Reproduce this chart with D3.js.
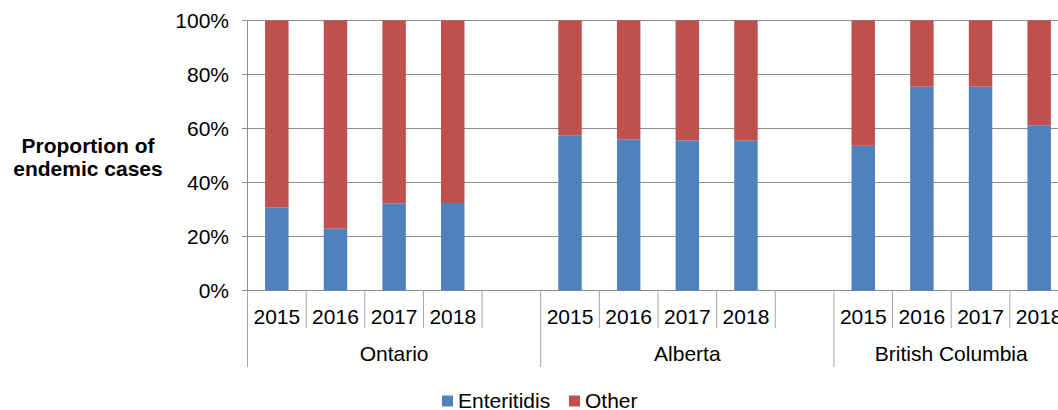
<!DOCTYPE html>
<html>
<head>
<meta charset="utf-8">
<script src="https://cdn.jsdelivr.net/npm/d3@7"></script>
<style>
  body { margin: 0; background: #fff; }
  svg { display: block; font-family: "Liberation Sans", Arial, sans-serif; }
</style>
</head>
<body>
<svg id="chart" width="1058" height="410"></svg>
<script>
// ---- Data ----
const regions = ["Ontario", "Alberta", "British Columbia"];
const years = ["2015", "2016", "2017", "2018"];
// slot labels per category (blank slots separate the regions)
const slotYears = ["2015", "2016", "2017", "2018", "", "2015", "2016", "2017", "2018", "", "2015", "2016", "2017", "2018"];
const slotRegions = ["Ontario", "Ontario", "Ontario", "Ontario", "Ontario",
                     "Alberta", "Alberta", "Alberta", "Alberta", "Alberta",
                     "British Columbia", "British Columbia", "British Columbia", "British Columbia"];
const enteritidis = [30.7, 22.9, 32.3, 32.4, null, 57.5, 56.0, 55.6, 55.5, null, 53.6, 75.5, 75.5, 61.2];
const other =       [69.3, 77.1, 67.7, 67.6, null, 42.5, 44.0, 44.4, 44.5, null, 46.4, 24.5, 24.5, 38.8];
const yTicks = [0, 20, 40, 60, 80, 100];
const seriesNames = ["Enteritidis", "Other"];
const colors = ["#4F81BD", "#C0504D"];

// ---- Layout ----
const svg = d3.select("#chart");
const pLeft = 247.5, pRight = 1068.5, pTop = 20.5, pBottom = 290.5;
const gridColor = "#8c8c8c";
const fs = 21;

const slots = d3.range(slotYears.length);
const x = d3.scaleBand().domain(slots).range([pLeft, pRight]).paddingInner(0.6).paddingOuter(0.3);
const y = d3.scaleLinear().domain([0, 100]).range([pBottom, pTop]);

// Gridlines
svg.append("g").selectAll("line").data(yTicks).join("line")
  .attr("x1", pLeft - 5.5).attr("x2", pRight)
  .attr("y1", d => y(d)).attr("y2", d => y(d))
  .attr("stroke", gridColor).attr("stroke-width", 1);

// Y-axis tick labels
svg.append("g").selectAll("text").data(yTicks).join("text")
  .attr("x", 229).attr("y", d => y(d)).attr("dy", "0.36em")
  .attr("text-anchor", "end").attr("font-size", fs).attr("fill", "#000")
  .text(d => d + "%");

// Bars
const data = slots.map(i => ({ i, e: enteritidis[i], o: other[i] })).filter(d => d.e != null);
const stack = d3.stack().keys(["e", "o"])(data);
svg.append("g").selectAll("g").data(stack).join("g")
  .attr("fill", (d, k) => colors[k])
  .selectAll("rect").data(d => d).join("rect")
  .attr("x", d => x(d.data.i))
  .attr("width", x.bandwidth())
  .attr("y", d => y(d[1]))
  .attr("height", d => y(d[0]) - y(d[1]));

// Y axis line
svg.append("line").attr("x1", pLeft).attr("x2", pLeft).attr("y1", pTop).attr("y2", pBottom)
  .attr("stroke", gridColor).attr("stroke-width", 1);

// Category ticks (slot boundaries)
const step = x.step();
const boundaries = d3.range(slotYears.length + 1).map(i => pLeft + i * step);
svg.append("g").selectAll("line").data(boundaries).join("line")
  .attr("x1", d => d).attr("x2", d => d)
  .attr("y1", pBottom)
  .attr("y2", (d, i) => (i === 0 || slotRegions[i] !== slotRegions[i - 1]) && i < slotYears.length ? 367 : 328)
  .attr("stroke", "#a6a6a6").attr("stroke-width", 1);

// Year labels
svg.append("g").selectAll("text").data(slots.filter(i => slotYears[i] !== "")).join("text")
  .attr("x", i => x(i) + x.bandwidth() / 2).attr("y", 323.5)
  .attr("text-anchor", "middle").attr("font-size", fs).attr("fill", "#000")
  .text(i => slotYears[i]);

// Region labels
svg.append("g").selectAll("text").data(regions).join("text")
  .attr("x", r => {
    const idx = slots.filter(i => slotRegions[i] === r);
    return pLeft + (d3.min(idx) + d3.max(idx) + 1) / 2 * step;
  })
  .attr("y", 361).attr("text-anchor", "middle").attr("font-size", fs).attr("fill", "#000")
  .text(r => r);

// Axis title
const title = svg.append("text").attr("text-anchor", "middle")
  .attr("font-size", fs).attr("font-weight", "bold").attr("fill", "#000");
title.append("tspan").attr("x", 88).attr("y", 152.5).text("Proportion of");
title.append("tspan").attr("x", 88).attr("y", 176).text("endemic cases");

// Legend
const legendItems = [{ x: 442, tx: 458 }, { x: 569, tx: 585 }];
const lg = svg.append("g").selectAll("g").data(seriesNames).join("g");
lg.append("rect").attr("x", (d, k) => legendItems[k].x).attr("y", 395.5)
  .attr("width", 11).attr("height", 11).attr("fill", (d, k) => colors[k]);
lg.append("text").attr("x", (d, k) => legendItems[k].tx).attr("y", 408)
  .attr("font-size", fs).attr("fill", "#000").text(d => d);
</script>
</body>
</html>
